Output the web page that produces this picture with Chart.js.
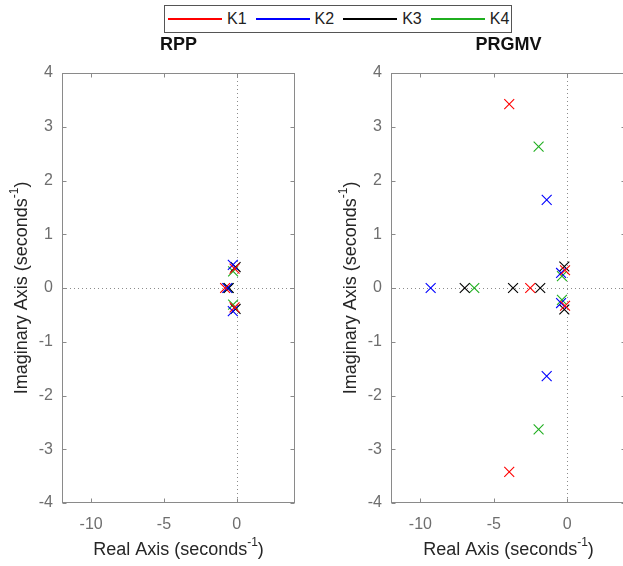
<!DOCTYPE html>
<html>
<head>
<meta charset="utf-8">
<title>Pole maps</title>
<script src="https://cdn.jsdelivr.net/npm/chart.js@4.4.0/dist/chart.umd.min.js"></script>
<style>
  html, body { margin: 0; padding: 0; background: #fff; overflow: hidden; }
  body { position: relative; width: 623px; height: 566px; font-family: 'Liberation Sans', Arial, sans-serif; }
  .pane { position: absolute; top: 0; height: 566px; }
  #legend {
    position: absolute; left: 164px; top: 5px; width: 348px; height: 28px; box-sizing: border-box;
    border: 1px solid #555; background: #fff; display: flex; align-items: center;
    padding: 0 0 0 3px; font-size: 16px; color: #222; z-index: 2; overflow: hidden;
  }
  #legend .item { display: flex; align-items: center; margin-right: 9px; }
  #legend .swatch { display: block; width: 54px; height: 1.5px; margin-right: 5px; }
</style>
</head>
<body>
<div id="legend"></div>
<div class="pane" style="left:0;width:311px"><canvas id="rppChart" width="311" height="566"></canvas></div>
<div class="pane" style="left:311px;width:330px"><canvas id="prgmvChart" width="330" height="566"></canvas></div>

<script>
var seriesNames = ['K1', 'K2', 'K3', 'K4'];
var seriesColors = ['#ff0000', '#0000ff', '#000000', '#1fae1f'];

var xTicks = [-10, -5, 0];
var yTicks = [-4, -3, -2, -1, 0, 1, 2, 3, 4];

// closed-loop poles, one row per gain: real parts / imaginary parts
var rppRe = [
    [-0.80, -0.15, -0.15],
    [-0.65, -0.27, -0.27],
    [-0.55, -0.08, -0.08],
    [-0.60, -0.25, -0.25]
];
var rppIm = [
    [0, 0.36, -0.36],
    [0, 0.43, -0.43],
    [0, 0.39, -0.39],
    [0, 0.31, -0.31]
];

var prgmvRe = [
    [-3.95, -3.95, -2.52, -0.15, -0.15],
    [-9.30, -1.40, -1.40, -0.42, -0.42],
    [-6.98, -3.69, -1.84, -0.20, -0.20],
    [-6.33, -1.95, -1.95, -0.36, -0.36]
];
var prgmvIm = [
    [3.42, -3.42, 0, 0.33, -0.33],
    [0, 1.64, -1.64, 0.28, -0.28],
    [0, 0, 0, 0.40, -0.40],
    [0, 2.63, -2.63, 0.22, -0.22]
];

var xTitle = 'Real Axis (seconds';
var yTitle = 'Imaginary Axis (seconds';
var unitPower = '-1';

var FONT = "'Liberation Sans', Arial, Helvetica, sans-serif";

// legend strip shared by both plots
var legend = document.getElementById('legend');
seriesNames.forEach(function(name, i) {
    var item = document.createElement('div');
    item.className = 'item';
    var sw = document.createElement('div');
    sw.className = 'swatch';
    sw.style.backgroundColor = seriesColors[i];
    var lab = document.createElement('span');
    lab.textContent = name;
    item.appendChild(sw);
    item.appendChild(lab);
    legend.appendChild(item);
});

// text like "Real Axis (seconds^-1)" with a raised exponent
function drawUnitTitle(ctx, base, cx, cy, vertical) {
    ctx.save();
    ctx.translate(cx, cy);
    if (vertical) ctx.rotate(-Math.PI / 2);
    ctx.fillStyle = '#262626';
    ctx.textBaseline = 'middle';
    ctx.textAlign = 'left';
    ctx.font = '18px ' + FONT;
    var w1 = ctx.measureText(base).width;
    var w3 = ctx.measureText(')').width;
    ctx.font = '12px ' + FONT;
    var w2 = ctx.measureText(unitPower).width;
    var x = -(w1 + w2 + w3) / 2;
    ctx.font = '18px ' + FONT;
    ctx.fillText(base, x, 0);
    ctx.font = '12px ' + FONT;
    ctx.fillText(unitPower, x + w1, -7);
    ctx.font = '18px ' + FONT;
    ctx.fillText(')', x + w1 + w2, 0);
    ctx.restore();
}

var pzAxes = {
    id: 'pzAxes',
    beforeDatasetsDraw: function(chart) {
        var ctx = chart.ctx, a = chart.chartArea;
        var x0 = Math.round(chart.scales.x.getPixelForValue(0)) + 0.5;
        var y0 = Math.round(chart.scales.y.getPixelForValue(0)) + 0.5;
        ctx.save();
        ctx.strokeStyle = '#8c8c8c';
        ctx.lineWidth = 1;
        ctx.setLineDash([1, 3]);
        ctx.beginPath();
        ctx.moveTo(x0, a.top);
        ctx.lineTo(x0, a.bottom);
        ctx.moveTo(a.left, y0);
        ctx.lineTo(a.right, y0);
        ctx.stroke();
        ctx.restore();
    },
    afterDraw: function(chart) {
        var ctx = chart.ctx, a = chart.chartArea;
        var sx = chart.scales.x, sy = chart.scales.y;
        var L = Math.round(a.left) + 0.5, R = Math.round(a.right) - 0.5;
        var T = Math.round(a.top) + 0.5, B = Math.round(a.bottom) - 0.5;
        var tl = 4;
        ctx.save();
        ctx.strokeStyle = '#8a8a8a';
        ctx.lineWidth = 1;
        ctx.strokeRect(L, T, R - L, B - T);
        ctx.beginPath();
        xTicks.forEach(function(v) {
            var px = Math.round(sx.getPixelForValue(v)) + 0.5;
            ctx.moveTo(px, B); ctx.lineTo(px, B - tl);
            ctx.moveTo(px, T); ctx.lineTo(px, T + tl);
        });
        yTicks.forEach(function(v) {
            var py = Math.round(sy.getPixelForValue(v)) + 0.5;
            ctx.moveTo(L, py); ctx.lineTo(L + tl, py);
            ctx.moveTo(R, py); ctx.lineTo(R - tl, py);
        });
        ctx.stroke();
        ctx.restore();

        drawUnitTitle(ctx, xTitle, (a.left + a.right) / 2, a.bottom + 47, false);
        drawUnitTitle(ctx, yTitle, a.left - 40, (a.top + a.bottom) / 2, true);
    }
};

function makeDatasets(re, im) {
    return seriesNames.map(function(name, i) {
        return {
            label: name,
            data: re[i].map(function(r, j) { return { x: r, y: im[i][j] }; }),
            pointStyle: 'crossRot',
            radius: 7,
            hoverRadius: 7,
            borderWidth: 1.1,
            borderColor: seriesColors[i],
            backgroundColor: seriesColors[i],
            showLine: false
        };
    });
}

function makePoleMap(id, title, re, im, axisWidth, rightPad) {
    return new Chart(document.getElementById(id), {
        type: 'scatter',
        data: { datasets: makeDatasets(re, im) },
        plugins: [pzAxes],
        options: {
            responsive: false,
            animation: false,
            layout: { padding: { left: 0, right: rightPad, top: 0, bottom: 0 } },
            plugins: {
                legend: { display: false },
                tooltip: { enabled: false },
                title: {
                    display: true,
                    text: title,
                    fullSize: false,
                    color: '#111',
                    font: { family: FONT, size: 18, weight: 'bold' },
                    padding: { top: 34, bottom: 17.4 }
                }
            },
            scales: {
                x: {
                    type: 'linear',
                    min: -12,
                    max: 4,
                    afterBuildTicks: function(s) { s.ticks = xTicks.map(function(v) { return { value: v }; }); },
                    afterFit: function(s) { s.height = 63; },
                    grid: { display: false, drawTicks: false },
                    border: { display: false },
                    ticks: { color: '#6e6e6e', padding: 12, maxRotation: 0, font: { family: FONT, size: 16 } }
                },
                y: {
                    type: 'linear',
                    min: -4,
                    max: 4,
                    afterBuildTicks: function(s) { s.ticks = yTicks.map(function(v) { return { value: v }; }); },
                    afterFit: function(s) { s.width = axisWidth; },
                    grid: { display: false, drawTicks: false },
                    border: { display: false },
                    ticks: { color: '#6e6e6e', padding: 9, font: { family: FONT, size: 16 } }
                }
            }
        }
    });
}

makePoleMap('rppChart', 'RPP', rppRe, rppIm, 62, 16);
makePoleMap('prgmvChart', 'PRGMV', prgmvRe, prgmvIm, 80, 15);
</script>
</body>
</html>
